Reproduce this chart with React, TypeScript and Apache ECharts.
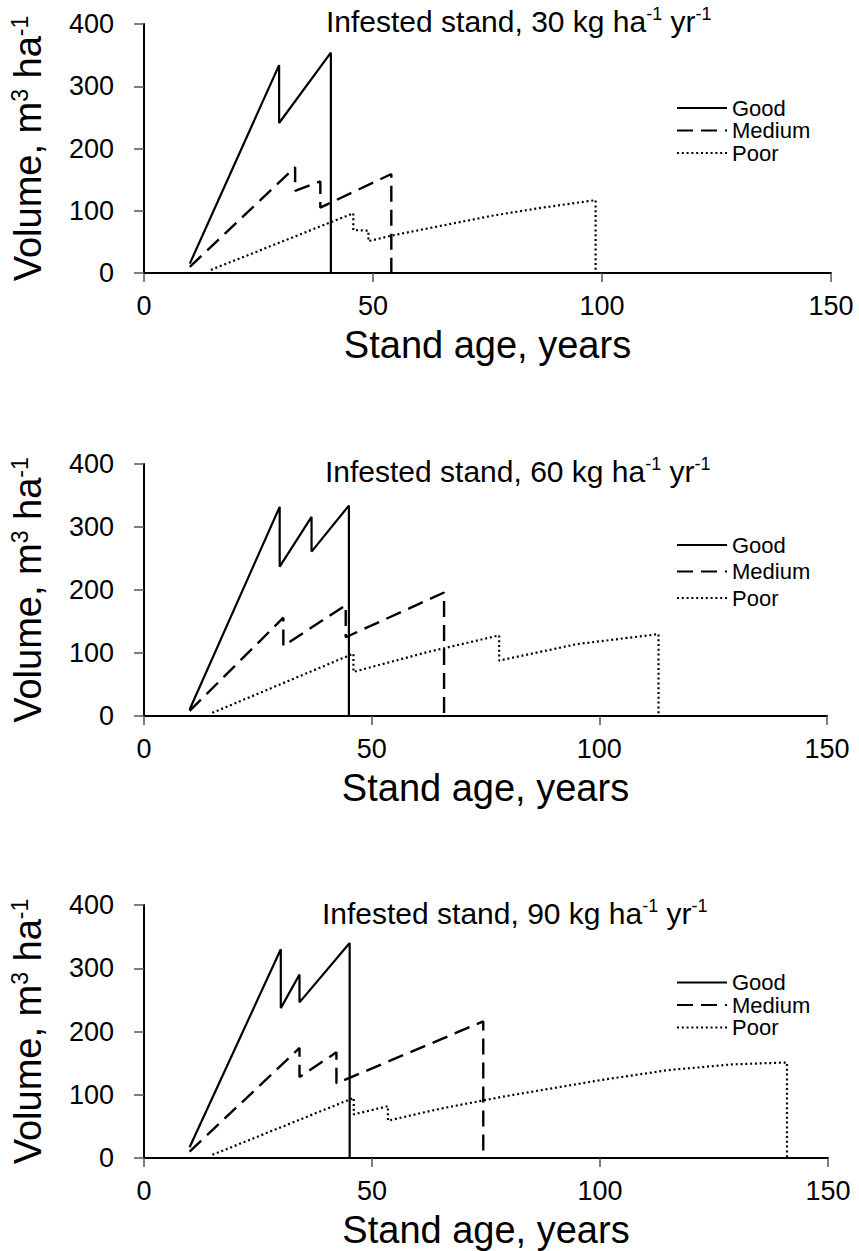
import React, { useEffect, useRef } from 'react';
import * as echarts from 'echarts';

const FONT = '"Liberation Sans", Arial, Helvetica, sans-serif';

// Panel labels (N deposition, kg ha-1 yr-1)
const depositions = ['30', '60', '90'];
const seriesNames = ['Good', 'Medium', 'Poor'];

// Axis ranges
const xMin = 0;
const xMax = 150;
const xStep = 50;
const yMin = 0;
const yMax = 400;
const yStep = 100;

// [stand age (years), volume (m3 ha-1)]
const good30 = [[10, 15], [29.5, 334], [29.5, 241], [40.8, 354], [40.8, 0]];
const medium30 = [[10, 10], [33, 170], [33, 132], [38.5, 147], [38.5, 105], [54, 159], [54, 0]];
const poor30 = [[14.6, 5], [45.7, 96], [45.7, 69], [49, 68], [49, 51], [54, 60], [65, 76], [76, 92], [87, 105], [98.6, 117], [98.6, 0]];

const good60 = [[10, 10], [29.8, 332], [29.8, 237], [36.8, 316], [36.8, 261], [45, 334], [45, 0]];
const medium60 = [[10, 8], [30.6, 156], [30.6, 111], [44.3, 176], [44.3, 125], [65.9, 196], [65.9, 0]];
const poor60 = [[15, 5], [46, 99], [46, 70], [62, 101], [78, 128], [78, 88], [95, 114], [113, 130], [113, 0]];

const good90 = [[10, 17], [30, 330], [30, 237], [34.1, 290], [34.1, 246], [45.1, 340], [45.1, 0]];
const medium90 = [[10, 10], [34.1, 174], [34.1, 128], [42.2, 167], [42.2, 118], [74.4, 216], [74.4, 0]];
const poor90 = [[15, 5], [46, 95], [46, 69], [53.5, 82], [53.5, 59], [65, 78], [78.7, 97], [100, 123], [115, 139], [129, 148], [141, 151], [141, 0]];

const panelData = [
  [good30, medium30, poor30],
  [good60, medium60, poor60],
  [good90, medium90, poor90],
];

export default function App() {
  const ref = useRef<HTMLDivElement>(null);

  useEffect(() => {
    if (!ref.current) return;
    const chart = echarts.init(ref.current, null, { renderer: 'svg' });

    const grids = [
      { left: 142, top: 24, width: 689, height: 249 },
      { left: 138, top: 464, width: 689, height: 252 },
      { left: 140, top: 905, width: 688, height: 253 },
    ];
    const titlePos = [
      { left: 326, top: 5 },
      { left: 325, top: 455 },
      { left: 322, top: 897 },
    ];
    const legendPos = [
      { top: 97, gap: 0.5 },
      { top: 534, gap: 4.5 },
      { top: 971.5, gap: 0.5 },
    ];
    const lineTypes: any[] = ['solid', [16, 8], [2, 2.8]];
    const lineWidths = [2.2, 2.4, 2.2];

    const supRich = (size: number) => ({
      sup: { fontSize: size, fontFamily: FONT, color: '#000', verticalAlign: 'top' },
    });

    const option: any = {
      animation: false,
      backgroundColor: '#fff',
      title: depositions.map((d, i) => ({
        text: `Infested stand, ${d} kg ha{sup|-1} yr{sup|-1}`,
        left: titlePos[i].left,
        top: titlePos[i].top,
        padding: 0,
        textStyle: {
          fontSize: 30,
          fontWeight: 'normal',
          color: '#000',
          fontFamily: FONT,
          lineHeight: 33,
          rich: supRich(18),
        },
      })),
      legend: depositions.map((_, i) => ({
        orient: 'vertical',
        left: 676,
        top: legendPos[i].top,
        itemGap: legendPos[i].gap,
        itemWidth: 50,
        itemHeight: 14,
        padding: 0,
        selectedMode: false,
        data: seriesNames,
        itemStyle: { color: 'rgba(0,0,0,0)', borderColor: 'rgba(0,0,0,0)', borderWidth: 0, opacity: 0 },
        textStyle: { fontSize: 22, color: '#000', fontFamily: FONT },
      })),
      grid: grids,
      xAxis: grids.map((_, i) => ({
        type: 'value',
        gridIndex: i,
        min: xMin,
        max: xMax,
        interval: xStep,
        axisLine: { show: true, onZero: false, lineStyle: { color: '#000', width: 2 } },
        axisTick: { show: true, length: 9, lineStyle: { color: '#555', width: 1.5 } },
        axisLabel: { fontSize: 27, color: '#000', fontFamily: FONT, margin: 19 },
        splitLine: { show: false },
        name: 'Stand age, years',
        nameLocation: 'middle',
        nameGap: 53,
        nameTextStyle: { fontSize: 38, color: '#000', fontFamily: FONT },
      })),
      yAxis: grids.map((_, i) => ({
        type: 'value',
        gridIndex: i,
        min: yMin,
        max: yMax,
        interval: yStep,
        axisLine: { show: true, onZero: false, lineStyle: { color: '#000', width: 2 } },
        axisTick: { show: true, length: 10, lineStyle: { color: '#555', width: 1.5 } },
        axisLabel: { fontSize: 27, color: '#000', fontFamily: FONT, margin: 30 },
        splitLine: { show: false },
        name: 'Volume, m{sup|3} ha{sup|-1}',
        nameLocation: 'middle',
        nameGap: 96,
        nameTextStyle: { fontSize: 38, color: '#000', fontFamily: FONT, lineHeight: 40, rich: supRich(23) },
      })),
      series: panelData.flatMap((panel, i) =>
        panel.map((data, j) => ({
          type: 'line',
          name: seriesNames[j],
          xAxisIndex: i,
          yAxisIndex: i,
          data,
          symbol: 'none',
          showSymbol: false,
          itemStyle: { color: '#000' },
          lineStyle: { color: '#000', width: lineWidths[j], type: lineTypes[j] },
          emphasis: { disabled: true },
        }))
      ),
    };

    chart.setOption(option);
    return () => chart.dispose();
  }, []);

  return (
    <div
      ref={ref}
      style={{ position: 'absolute', left: 0, top: 0, width: 859, height: 1251, background: '#fff' }}
    />
  );
}
